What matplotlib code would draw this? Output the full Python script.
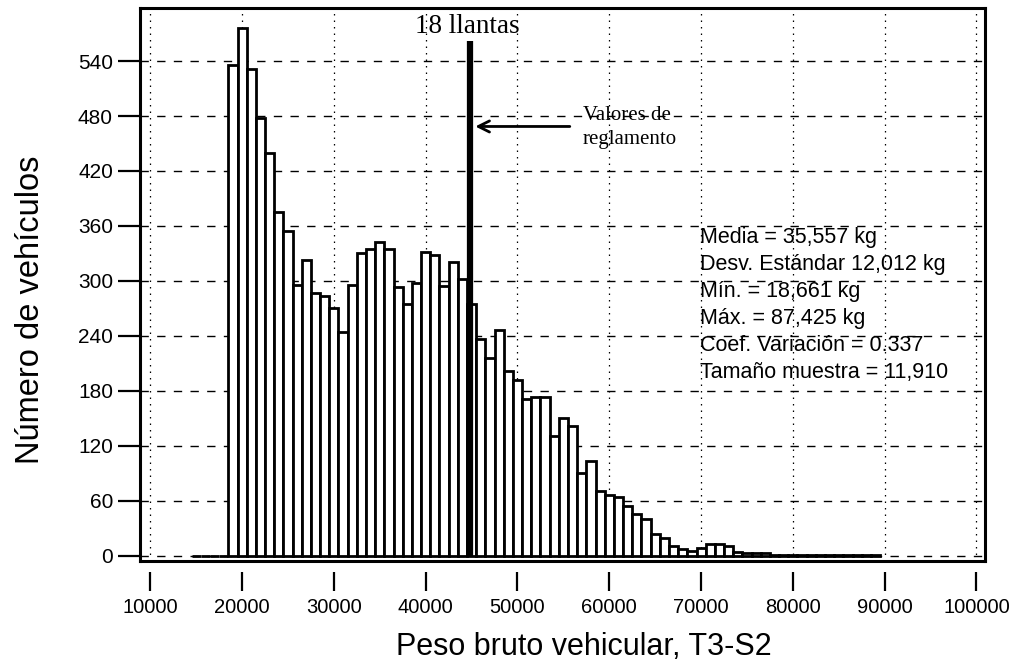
import numpy as np
import matplotlib
matplotlib.use("Agg")
import matplotlib.pyplot as plt

# ===========================
# Histogram data (bins of 1000 kg, centres)
# ===========================
bin_centres = np.arange(15000, 90000, 1000)
counts = [0, 0, 0, 0,
          536, 576, 531, 478, 440, 375, 354, 295, 323, 287,
          283, 270, 244, 296, 330, 335, 342, 335, 293, 275,
          298, 332, 328, 294, 321, 302, 275, 237, 216, 246,
          201, 192, 171, 173, 173, 131, 150, 141, 90, 103,
          71, 66, 64, 54, 45, 40, 24, 19, 10, 7,
          5, 8, 13, 13, 10, 4, 3, 3, 3,
          1, 1, 1, 1, 1, 1, 1, 1, 1, 1, 1, 1]
bin_width = 1000

limite_18_llantas = 44800
x_ticks = np.arange(10000, 100001, 10000)
y_ticks = np.arange(0, 541, 60)

stats_lines = ["Media = 35,557 kg",
               "Desv. Estándar 12,012 kg",
               "Mín. = 18,661 kg",
               "Máx. = 87,425 kg",
               "Coef. Variación = 0.337",
               "Tamaño muestra = 11,910"]

plt.rcParams['font.family'] = ['Liberation Sans', 'DejaVu Sans']

fig = plt.figure(figsize=(10.19, 6.6), dpi=100)
ax = fig.add_axes([140/1019, 1-561/660, 845/1019, 553/660])

# grid behind the bars
for yt in y_ticks:
    ax.axhline(yt, color='black', lw=1.0, dashes=(6, 6), zorder=1)
for xt in x_ticks:
    ax.axvline(xt, color='black', lw=0.9, dashes=(1.2, 4), zorder=1)

ax.bar(bin_centres, counts, width=bin_width, color='white',
       edgecolor='black', linewidth=2.0, zorder=2)

# regulatory limit line
ax.plot([limite_18_llantas, limite_18_llantas], [0, 562], color='black',
        lw=4.5, solid_capstyle='butt', zorder=3)
ax.text(44500, 570.7, "18 llantas", family=['Liberation Serif'], fontsize=19.5,
        ha='center', va='baseline', zorder=4)
ax.annotate("", xy=(45100, 468.6), xytext=(56000, 468.6),
            arrowprops=dict(arrowstyle='->,head_length=0.8,head_width=0.4',
                            lw=2, color='black'), zorder=4)
ax.text(57100, 467.5, "Valores de\nreglamento", family=['Liberation Serif'],
        fontsize=15, ha='left', va='center', linespacing=1.3, zorder=4)

for i, line in enumerate(stats_lines):
    ax.text(69900, 347 - i*29.5, line, fontsize=15.5, ha='left', va='center', zorder=4)

ax.set_xlim(8878, 100926)
ax.set_ylim(-6, 598)
ax.set_xticks(x_ticks)
ax.set_yticks(y_ticks)
ax.tick_params(axis='y', length=15.5, width=1.6, pad=4, labelsize=15)
ax.tick_params(axis='x', length=13.5, width=1.6, pad=5, labelsize=14.5)

for s in ['left', 'top', 'right']:
    ax.spines[s].set_linewidth(2.2)
ax.spines['bottom'].set_position(('outward', 8))
ax.spines['bottom'].set_color('none')
ax.plot([0, 1], [0, 0], transform=ax.transAxes, color='black', lw=2.2,
        clip_on=False, zorder=5)

ax.set_xlabel("Peso bruto vehicular, T3-S2", fontsize=22)
ax.set_ylabel("Número de vehículos", fontsize=23.5)
ax.xaxis.set_label_coords(0.525, -0.128)
ax.yaxis.set_label_coords(-0.111, 0.454)

fig.savefig("out.png", dpi=100)
